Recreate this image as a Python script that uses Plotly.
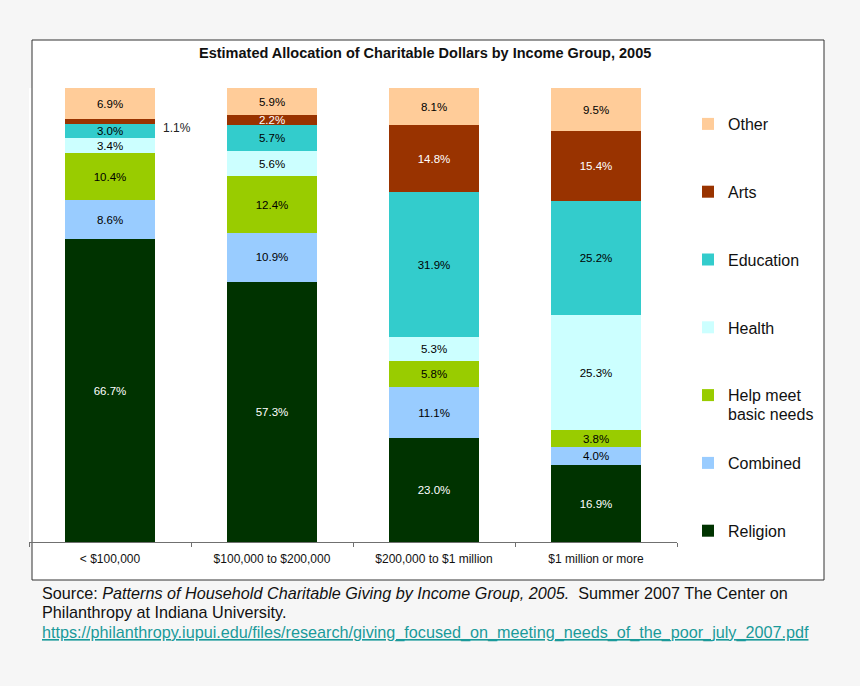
import plotly.graph_objects as go

# Income groups and share of charitable dollars (%) per cause
groups = ["< $100,000", "$100,000 to $200,000", "$200,000 to $1 million", "$1 million or more"]
religion = [66.7, 57.3, 23.0, 16.9]
combined = [8.6, 10.9, 11.1, 4.0]
basic_needs = [10.4, 12.4, 5.8, 3.8]
health = [3.4, 5.6, 5.3, 25.3]
education = [3.0, 5.7, 31.9, 25.2]
arts = [1.1, 2.2, 14.8, 15.4]
other = [6.9, 5.9, 8.1, 9.5]

series = [
    ("Religion", religion, "#003300", "white"),
    ("Combined", combined, "#99ccff", "black"),
    ("Help meet", basic_needs, "#99cc00", "black"),
    ("Health", health, "#ccffff", "black"),
    ("Education", education, "#33cccc", "black"),
    ("Arts", arts, "#993300", "white"),
    ("Other", other, "#ffcc99", "black"),
]

W, H = 860, 686
BG = "#f6f6f6"
FONT = "Liberation Sans, Arial, sans-serif"


def px(x):
    return x / W


def py(y):
    return 1 - y / H


fig = go.Figure()
for i, (name, vals, color, tcolor) in enumerate(series):
    labels = [f"{v:.1f}%" for v in vals]
    if name == "Arts":
        labels[0] = ""  # too thin, labelled outside
    fig.add_trace(go.Bar(
        x=groups, y=vals, name=name, marker_color=color,
        marker_line_width=0,
        text=labels, textposition="inside", insidetextanchor="middle",
        textfont=dict(size=11.5, color=tcolor, family=FONT),
        hoverinfo="skip", legendgroup=name, legendrank=100 - i,
    ))

# small Arts slice of first bar, label sits to the right
fig.add_annotation(x=groups[0], y=religion[0] + combined[0] + basic_needs[0] + health[0]
                   + education[0] + arts[0] / 2,
                   text="1.1%", showarrow=False, xshift=67, yshift=-6,
                   font=dict(size=12, color="#222", family=FONT))

# outer frame
fig.add_shape(type="rect", xref="paper", yref="paper",
              x0=px(32), x1=px(824), y0=py(580), y1=py(40),
              line=dict(color="#333333", width=1), fillcolor="white", layer="below")

fig.add_annotation(xref="paper", yref="paper", x=px(425), y=py(53),
                   xanchor="center", yanchor="middle",
                   text="<b>Estimated Allocation of Charitable Dollars by Income Group, 2005</b>",
                   showarrow=False, font=dict(size=14.5, color="#111", family=FONT))

# second line of the "Help meet basic needs" legend entry
fig.add_annotation(xref="paper", yref="paper", x=px(726), y=py(414),
                   xanchor="left", yanchor="middle", text="basic needs", showarrow=False,
                   font=dict(size=16, color="#111", family=FONT))

src = [
    ("Source: <i>Patterns of Household Charitable Giving by Income Group, 2005.</i>  "
     "Summer 2007 The Center on", 593, "#111", None),
    ("Philanthropy at Indiana University.", 612, "#111", None),
    ("https://philanthropy.iupui.edu/files/research/giving_focused_on_meeting_needs_of_the_poor_july_2007.pdf",
     632, "#1a9a9a", "under"),
]
for txt, ypos, col, lp in src:
    f = dict(size=16.2, color=col, family=FONT)
    if lp:
        f["lineposition"] = lp
    fig.add_annotation(xref="paper", yref="paper", x=px(40), y=py(ypos),
                       xanchor="left", yanchor="middle", text=txt, showarrow=False, font=f)

fig.update_layout(
    width=W, height=H,
    margin=dict(l=0, r=0, t=0, b=0),
    barmode="stack", bargap=0.445,
    paper_bgcolor=BG, plot_bgcolor="white",
    font=dict(family=FONT),
    uniformtext=dict(minsize=11.5, mode="show"),
    xaxis=dict(domain=[px(29), px(677)], showline=True, linecolor="#707070", linewidth=1,
               ticks="outside", tickson="boundaries", ticklen=4, tickcolor="#707070",
               ticklabelstandoff=6,
               tickfont=dict(size=12, color="#111", family=FONT), showgrid=False),
    yaxis=dict(domain=[py(542), py(88)], range=[0, 100.1], visible=False,
               showgrid=False),
    legend=dict(x=px(688), y=py(107), xanchor="left", yanchor="top",
                bgcolor="rgba(0,0,0,0)", font=dict(size=16, color="#111", family=FONT),
                tracegroupgap=44, valign="top"),
)

# drop the default page margin so the figure fills the window
fig.write_html("out.html", config={"displayModeBar": False},
               post_script=f"document.body.style.margin='0';document.body.style.background='{BG}';")
